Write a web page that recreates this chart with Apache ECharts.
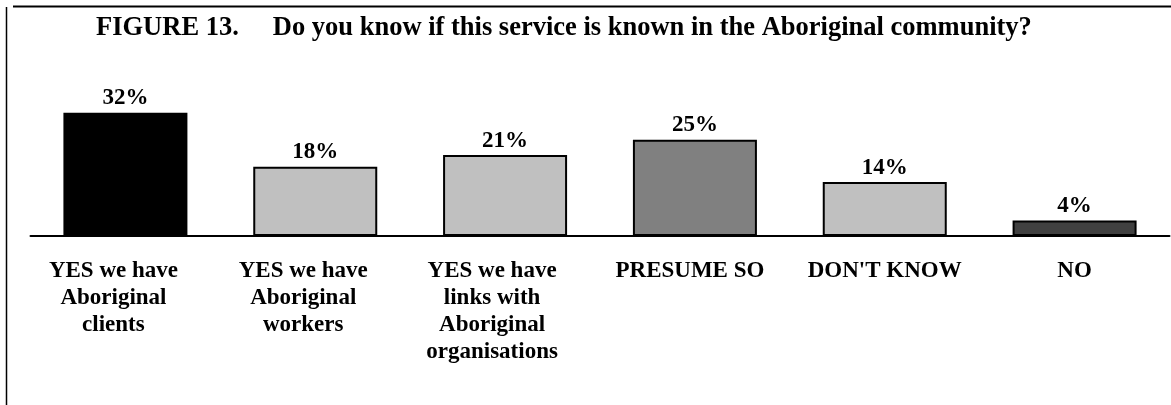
<!DOCTYPE html>
<html>
<head>
<meta charset="utf-8">
<title>Figure 13</title>
<script src="https://cdn.jsdelivr.net/npm/echarts@6/dist/echarts.min.js"></script>
<style>
  html, body { margin: 0; padding: 0; background: #ffffff; }
  #chart { width: 1171px; height: 405px; }
</style>
</head>
<body>
<div id="chart"></div>
<script>
// Survey answers and their shares (%)
const categories = [
  'YES we have\nAboriginal\nclients',
  'YES we have\nAboriginal\nworkers',
  'YES we have\nlinks with\nAboriginal\norganisations',
  'PRESUME SO',
  "DON'T KNOW",
  'NO'
];
const values = [32, 18, 21, 25, 14, 4];

// Fill for each bar, in category order
const barColors = ['#000000', '#c0c0c0', '#c0c0c0', '#808080', '#c0c0c0', '#404040'];
// Horizontal nudge (px) of each category label relative to its bar centre
const labelShift = [-12, -12, -13, -5, 0, 0];

const FONT = "'Liberation Serif', 'Times New Roman', serif";

const rich = {};
labelShift.forEach((s, i) => {
  rich['c' + i] = {
    fontFamily: FONT,
    fontWeight: 'bold',
    fontSize: 23,
    lineHeight: 27,
    color: '#000',
    padding: s < 0 ? [0, -2 * s, 0, 0] : [0, 0, 0, 2 * s]
  };
});

const chart = echarts.init(document.getElementById('chart'), null, { renderer: 'canvas' });

chart.setOption({
  backgroundColor: '#ffffff',
  animation: false,
  title: {
    left: 96,
    top: 15,
    padding: 0,
    text: '{a|FIGURE 13.}{b|Do you know if this service is known in the Aboriginal community?}',
    textStyle: {
      rich: {
        a: { fontFamily: FONT, fontWeight: 'bold', fontSize: 26.5, color: '#000' },
        b: { fontFamily: FONT, fontWeight: 'bold', fontSize: 26.5, color: '#000', padding: [0, 0, 0, 34] }
      }
    }
  },
  graphic: [
    // frame lines along the top and left edge
    { type: 'line', shape: { x1: 13, y1: 6.5, x2: 1171, y2: 6.5 }, style: { stroke: '#000', lineWidth: 2 } },
    { type: 'line', shape: { x1: 6.5, y1: 7, x2: 6.5, y2: 405 }, style: { stroke: '#000', lineWidth: 1.5 } }
  ],
  grid: { left: 30.5, right: 1.5, top: 81.9, bottom: 169 },
  xAxis: {
    type: 'category',
    data: categories,
    axisLine: { show: true, lineStyle: { color: '#000', width: 2 } },
    axisTick: { show: false },
    axisLabel: {
      interval: 0,
      margin: 22,
      formatter: (value, idx) => value.split('\n').map(l => '{c' + idx + '|' + l + '}').join('\n'),
      rich: rich
    }
  },
  yAxis: {
    type: 'value',
    min: 0,
    max: 40,
    show: false,
    splitLine: { show: false }
  },
  series: [{
    type: 'bar',
    barWidth: 124,
    data: values.map((v, i) => ({
      value: v,
      itemStyle: { color: barColors[i], borderColor: '#000', borderWidth: 2 }
    })),
    label: {
      show: true,
      position: 'top',
      distance: 3,
      formatter: '{c}%',
      fontFamily: FONT,
      fontWeight: 'bold',
      fontSize: 23,
      color: '#000'
    }
  }]
});
</script>
</body>
</html>
